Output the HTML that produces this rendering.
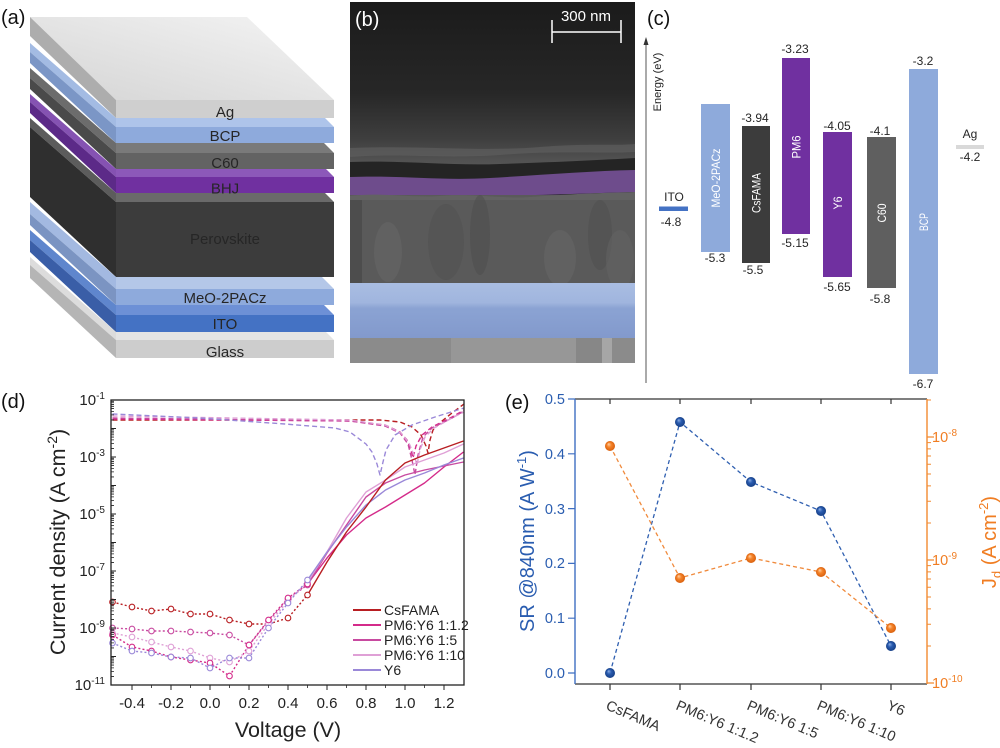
<!DOCTYPE html>
<html><head><meta charset="utf-8"><style>
html,body{margin:0;padding:0;background:#fff;}
svg{display:block;}
text{font-family:"Liberation Sans",Arial,sans-serif;}
</style></head><body>
<svg width="1000" height="748" viewBox="0 0 1000 748" xmlns="http://www.w3.org/2000/svg">
<defs>
<linearGradient id="agtop" x1="0" y1="1" x2="1" y2="0"><stop offset="0" stop-color="#d4d4d4"/><stop offset="1" stop-color="#f4f4f4"/></linearGradient>
<linearGradient id="semtop" x1="0" y1="0" x2="0" y2="1"><stop offset="0" stop-color="#1b1b1b"/><stop offset="0.55" stop-color="#272727"/><stop offset="0.82" stop-color="#3e3e3e"/><stop offset="1" stop-color="#585858"/></linearGradient>
<linearGradient id="semblue" x1="0" y1="0" x2="0" y2="1"><stop offset="0" stop-color="#a9bde2"/><stop offset="0.35" stop-color="#a0b5de"/><stop offset="0.45" stop-color="#8ba3d3"/><stop offset="1" stop-color="#8299cc"/></linearGradient>
<radialGradient id="bball" cx="0.5" cy="0.5" r="0.5" fx="0.35" fy="0.3"><stop offset="0" stop-color="#8fb0e6"/><stop offset="0.45" stop-color="#2a5cb0"/><stop offset="1" stop-color="#163f86"/></radialGradient>
<radialGradient id="oball" cx="0.5" cy="0.5" r="0.5" fx="0.35" fy="0.3"><stop offset="0" stop-color="#ffd2a8"/><stop offset="0.45" stop-color="#f5842a"/><stop offset="1" stop-color="#d9600e"/></radialGradient>
<clipPath id="semc"><rect x="350" y="2" width="285" height="361"/></clipPath>
<clipPath id="dclip"><rect x="111" y="400" width="353" height="285"/></clipPath>
<g id="dmin"><path d="M0,-8.58h3M0,-13.6h3M0,-17.16h3M0,-19.92h3M0,-22.18h3M0,-24.08h3M0,-25.74h3M0,-27.2h3" stroke="#222" stroke-width="0.8"/></g>
<g id="emin"><path d="M0,-37h4M0,-58.7h4M0,-74.1h4M0,-86h4M0,-95.7h4M0,-104h4M0,-111.1h4M0,-117.4h4" stroke="#f28a30" stroke-width="1"/></g>
</defs>
<rect width="1000" height="748" fill="#fff"/>

<!-- ===== Panel (a) ===== -->
<text x="1" y="24" font-size="20" fill="#111">(a)</text>
<polygon points="30,17 247,17 334,100 116,100" fill="url(#agtop)"/>
<polygon points="30,17 116,100 116,118 30,36" fill="#adadad"/>
<rect x="116" y="100" width="218" height="18" fill="#cfcfcf"/>
<polygon points="30,43 116,118 116,127 30,52" fill="#a3bbe3"/>
<polygon points="30,52 116,127 116,143 30,63" fill="#7b96c6"/>
<polygon points="116,118 325,118 334,127 116,127" fill="#aec4ea"/>
<rect x="116" y="127" width="218" height="16" fill="#8eaadc"/>
<polygon points="30,68 116,143 116,153 30,78" fill="#6c6c6c"/>
<polygon points="30,78 116,153 116,169 30,89" fill="#4a4a4a"/>
<polygon points="116,143 324,143 334,153 116,153" fill="#7a7a7a"/>
<rect x="116" y="153" width="218" height="16" fill="#636363"/>
<polygon points="30,94 116,169 116,177 30,102" fill="#8552b2"/>
<polygon points="30,102 116,177 116,193 30,113" fill="#5c2a88"/>
<polygon points="116,169 326,169 334,177 116,177" fill="#8c58b9"/>
<rect x="116" y="177" width="218" height="16" fill="#7030a0"/>
<polygon points="30,118 116,193 116,202 30,127" fill="#5c5c5c"/>
<polygon points="30,127 116,202 116,277 30,197" fill="#2f2f2f"/>
<polygon points="116,193 325,193 334,202 116,202" fill="#6a6a6a"/>
<rect x="116" y="202" width="218" height="75" fill="#3c3c3c"/>
<polygon points="30,202 116,277 116,289 30,214" fill="#a3b9e1"/>
<polygon points="30,214 116,289 116,305 30,225" fill="#7b94c2"/>
<polygon points="116,277 322,277 334,289 116,289" fill="#b4c7e8"/>
<rect x="116" y="289" width="218" height="16" fill="#8eaadc"/>
<polygon points="30,230 116,305 116,315 30,240" fill="#5f86cd"/>
<polygon points="30,240 116,315 116,332 30,252" fill="#3a5ea7"/>
<polygon points="116,305 324,305 334,315 116,315" fill="#6d90d6"/>
<rect x="116" y="315" width="218" height="17" fill="#4472c4"/>
<polygon points="30,257 116,332 116,340 30,265" fill="#dcdcdc"/>
<polygon points="30,265 116,340 116,358 30,278" fill="#b5b5b5"/>
<polygon points="116,332 326,332 334,340 116,340" fill="#e4e4e4"/>
<rect x="116" y="340" width="218" height="18" fill="#cdcdcd"/>
<g font-size="15" fill="#262626" text-anchor="middle">
<text x="225" y="117">Ag</text>
<text x="225" y="141">BCP</text>
<text x="225" y="168">C60</text>
<text x="225" y="193.5">BHJ</text>
<text x="225" y="244">Perovskite</text>
<text x="225" y="303">MeO-2PACz</text>
<text x="225" y="329">ITO</text>
<text x="225" y="357">Glass</text>
</g>

<!-- ===== Panel (b) SEM ===== -->
<g clip-path="url(#semc)">
<rect x="350" y="2" width="285" height="361" fill="#262626"/>
<rect x="350" y="2" width="285" height="166" fill="url(#semtop)"/>
<path d="M350,148 C420,145 480,152 540,147 C590,143 615,146 635,144 L635,152 C600,154 560,150 500,155 C440,159 400,153 350,157Z" fill="#5e5e5e" opacity="0.7"/>
<path d="M350,162 C400,160 450,166 500,164 C560,162 600,160 635,158 L635,173 C590,174 540,178 490,180 C440,182 400,179 350,180Z" fill="#242424"/>
<path d="M350,177 C400,175 440,181 490,178 C540,175 590,171 635,170 L635,192 C590,193 540,196 490,195 C440,195 400,197 350,196Z" fill="#6e4c8c"/>
<rect x="350" y="195" width="285" height="89" fill="#5a5a5a"/>
<path d="M350,196 C380,192 410,198 440,196 C470,193 500,199 530,197 C570,194 600,193 635,192 L635,200 L350,200Z" fill="#626262"/>
<ellipse cx="388" cy="252" rx="14" ry="30" fill="#656565" opacity="0.6"/>
<ellipse cx="446" cy="242" rx="18" ry="38" fill="#505050" opacity="0.5"/>
<ellipse cx="480" cy="235" rx="10" ry="40" fill="#4c4c4c" opacity="0.5"/>
<ellipse cx="560" cy="258" rx="16" ry="28" fill="#656565" opacity="0.6"/>
<ellipse cx="600" cy="235" rx="12" ry="35" fill="#4e4e4e" opacity="0.5"/>
<ellipse cx="620" cy="260" rx="14" ry="30" fill="#636363" opacity="0.5"/>
<rect x="350" y="200" width="12" height="84" fill="#474747" opacity="0.7"/>
<rect x="350" y="283" width="285" height="56" fill="url(#semblue)"/>
<rect x="350" y="338" width="285" height="25" fill="#8b8b8b"/>
<rect x="451" y="338" width="125" height="25" fill="#979797"/>
<rect x="576" y="338" width="26" height="25" fill="#878787"/>
<rect x="602" y="338" width="10" height="25" fill="#a6a6a6"/>
</g>
<text x="355" y="26" font-size="20" fill="#fff">(b)</text>
<text x="586" y="21" font-size="15" fill="#fff" text-anchor="middle">300 nm</text>
<path d="M552,32H621M552,20V43M621,20V43" stroke="#fff" stroke-width="1.5" fill="none"/>

<!-- ===== Panel (c) ===== -->
<text x="647" y="25" font-size="20" fill="#111">(c)</text>
<line x1="646" y1="383" x2="646" y2="42" stroke="#555" stroke-width="1"/>
<polygon points="643.5,45 646,37 648.5,45" fill="#333"/>
<text transform="translate(661,82) rotate(-90)" font-size="11" fill="#222" text-anchor="middle">Energy (eV)</text>
<rect x="659" y="206.5" width="29" height="4.5" fill="#4472c4"/>
<rect x="701" y="104" width="29" height="148" fill="#8eaadb"/>
<rect x="742" y="126" width="28" height="137" fill="#3c3c3c"/>
<rect x="782" y="58" width="28" height="176" fill="#7030a0"/>
<rect x="823" y="132" width="29" height="145" fill="#7030a0"/>
<rect x="867" y="137" width="29" height="151" fill="#5f5f5f"/>
<rect x="909" y="69" width="29" height="305" fill="#8eaadb"/>
<rect x="956" y="145" width="28" height="4" fill="#d9d9d9"/>
<g font-size="12" fill="#fff" text-anchor="middle">
<text transform="translate(720,178) rotate(-90)" textLength="59" lengthAdjust="spacingAndGlyphs">MeO-2PACz</text>
<text transform="translate(760.5,193) rotate(-90)" textLength="40" lengthAdjust="spacingAndGlyphs">CsFAMA</text>
<text transform="translate(800.5,147) rotate(-90)" textLength="23" lengthAdjust="spacingAndGlyphs">PM6</text>
<text transform="translate(842,203) rotate(-90)" textLength="13" lengthAdjust="spacingAndGlyphs">Y6</text>
<text transform="translate(886,213) rotate(-90)" textLength="19" lengthAdjust="spacingAndGlyphs">C60</text>
<text transform="translate(928,222) rotate(-90)" textLength="18" lengthAdjust="spacingAndGlyphs">BCP</text>
</g>
<g font-size="12" fill="#262626" text-anchor="middle">
<text x="674" y="201">ITO</text>
<text x="671" y="226">-4.8</text>
<text x="715" y="262">-5.3</text>
<text x="755" y="122">-3.94</text>
<text x="753" y="274">-5.5</text>
<text x="795" y="53">-3.23</text>
<text x="795" y="247">-5.15</text>
<text x="837" y="130">-4.05</text>
<text x="837" y="291">-5.65</text>
<text x="880" y="135">-4.1</text>
<text x="880" y="303">-5.8</text>
<text x="923" y="65">-3.2</text>
<text x="923" y="388">-6.7</text>
<text x="970" y="138">Ag</text>
<text x="970" y="161">-4.2</text>
</g>

<!-- ===== Panel (d) ===== -->
<text x="1" y="408" font-size="20" fill="#111">(d)</text>
<g clip-path="url(#dclip)" fill="none" stroke-width="1.4" stroke-linejoin="round">
<path d="M112.5,420 L380,420 L400,422 L412,427 L421,435 L426,446 L428,453 L430,440 L433,430 L442,421 L452,413 L464,404" stroke="#b81e22" stroke-dasharray="5,3"/>
<path d="M112.5,419 L350,421 L385,425 L400,432 L407,440 L411,450 L413,458 L416,446 L422,435 L432,427 L452,417 L464,410" stroke="#d42b8a" stroke-dasharray="5,3"/>
<path d="M112.5,418 L350,421 L385,426 L400,433 L408,444 L412,460 L415,475 L418,455 L423,437 L432,428 L452,418 L464,411" stroke="#c84aa0" stroke-dasharray="5,3"/>
<path d="M112.5,416 L350,420 L385,425 L401,433 L409,443 L414,455 L417,465 L420,450 L425,437 L434,428 L452,418 L464,412" stroke="#dfa0d6" stroke-dasharray="5,3"/>
<path d="M112.5,414 L200,418 L285,424 L335,428 L350,432 L358,438 L366,444 L372,452 L377,464 L380,475 L383,462 L386,450 L395,435 L412,425 L435,417 L464,408" stroke="#9a88d8" stroke-dasharray="5,3"/>
<polyline points="307.5,584 327,558 346.5,535 366,518 385.5,507 405,495 424.5,483 444,467 463.5,452" stroke="#d42b8a"/>
<polyline points="307.5,585 327,553 346.5,525 366,497 385.5,483 405,475 424.5,470 444,466 463.5,462" stroke="#c84aa0"/>
<polyline points="307.5,582 327,552 346.5,518 366,492 385.5,480 405,467 424.5,460 444,453 463.5,444" stroke="#dfa0d6"/>
<polyline points="307.5,580 327,552 346.5,527 366,505 385.5,490 405,480 424.5,473 444,465 463.5,458" stroke="#9a88d8"/>
<polyline points="307.5,595 327,562 346.5,532 366,507 385.5,480 405,463 424.5,455 444,448 463.5,441" stroke="#b81e22"/>
<polyline points="112.5,602 132,607 151.5,611 171,609 190.5,614 210,614 229.5,620 249,624 268.5,624 288,618 307.5,595" stroke="#b81e22" stroke-dasharray="2,2.2"/>
<polyline points="112.5,635 132,647 151.5,651 171,657 190.5,660 210,663 229.5,676 249,645 268.5,620 288,598 307.5,584" stroke="#d42b8a" stroke-dasharray="2,2.2"/>
<polyline points="112.5,628 132,629 151.5,631 171,631 190.5,632 210,633 229.5,635 249,645 268.5,621 288,599 307.5,585" stroke="#c84aa0" stroke-dasharray="2,2.2"/>
<polyline points="112.5,633 132,637 151.5,642 171,647 190.5,651 210,658 229.5,662 249,651 268.5,624 288,601 307.5,582" stroke="#dfa0d6" stroke-dasharray="2,2.2"/>
<polyline points="112.5,643 132,651 151.5,653 171,657 190.5,658 210,668 229.5,658 249,658 268.5,628 288,603 307.5,580" stroke="#9a88d8" stroke-dasharray="2,2.2"/>
</g>
<g fill="#fff" stroke-width="1.1">
<g stroke="#b81e22"><circle cx="112.5" cy="602" r="2.8"/><circle cx="132" cy="607" r="2.8"/><circle cx="151.5" cy="611" r="2.8"/><circle cx="171" cy="609" r="2.8"/><circle cx="190.5" cy="614" r="2.8"/><circle cx="210" cy="614" r="2.8"/><circle cx="229.5" cy="620" r="2.8"/><circle cx="249" cy="624" r="2.8"/><circle cx="288" cy="618" r="2.8"/><circle cx="307.5" cy="595" r="2.8"/></g>
<g stroke="#c84aa0"><circle cx="112.5" cy="628" r="2.8"/><circle cx="132" cy="629" r="2.8"/><circle cx="151.5" cy="631" r="2.8"/><circle cx="171" cy="631" r="2.8"/><circle cx="190.5" cy="632" r="2.8"/><circle cx="210" cy="633" r="2.8"/><circle cx="229.5" cy="635" r="2.8"/><circle cx="249" cy="645" r="2.8"/><circle cx="268.5" cy="621" r="2.8"/><circle cx="288" cy="599" r="2.8"/><circle cx="307.5" cy="585" r="2.8"/></g>
<g stroke="#dfa0d6"><circle cx="112.5" cy="633" r="2.8"/><circle cx="132" cy="637" r="2.8"/><circle cx="151.5" cy="642" r="2.8"/><circle cx="171" cy="647" r="2.8"/><circle cx="190.5" cy="651" r="2.8"/><circle cx="210" cy="658" r="2.8"/><circle cx="229.5" cy="662" r="2.8"/><circle cx="249" cy="651" r="2.8"/><circle cx="268.5" cy="624" r="2.8"/><circle cx="288" cy="601" r="2.8"/><circle cx="307.5" cy="582" r="2.8"/></g>
<g stroke="#d42b8a"><circle cx="112.5" cy="635" r="2.8"/><circle cx="132" cy="647" r="2.8"/><circle cx="151.5" cy="651" r="2.8"/><circle cx="171" cy="657" r="2.8"/><circle cx="190.5" cy="660" r="2.8"/><circle cx="210" cy="663" r="2.8"/><circle cx="229.5" cy="676" r="2.8"/><circle cx="249" cy="645" r="2.8"/><circle cx="268.5" cy="620" r="2.8"/><circle cx="288" cy="598" r="2.8"/><circle cx="307.5" cy="584" r="2.8"/></g>
<g stroke="#9a88d8"><circle cx="112.5" cy="643" r="2.8"/><circle cx="132" cy="651" r="2.8"/><circle cx="151.5" cy="653" r="2.8"/><circle cx="171" cy="657" r="2.8"/><circle cx="190.5" cy="658" r="2.8"/><circle cx="210" cy="668" r="2.8"/><circle cx="229.5" cy="658" r="2.8"/><circle cx="249" cy="658" r="2.8"/><circle cx="268.5" cy="628" r="2.8"/><circle cx="288" cy="603" r="2.8"/><circle cx="307.5" cy="580" r="2.8"/></g>
</g>
<rect x="111" y="400" width="353" height="285" fill="none" stroke="#222" stroke-width="1.3"/>
<path d="M111,400h5M111,428.5h5M111,457h5M111,485.5h5M111,514h5M111,542.5h5M111,571h5M111,599.5h5M111,628h5M111,656.5h5M111,685h5" stroke="#222" stroke-width="1"/>
<use href="#dmin" x="111" y="685"/><use href="#dmin" x="111" y="656.5"/><use href="#dmin" x="111" y="628"/><use href="#dmin" x="111" y="599.5"/><use href="#dmin" x="111" y="571"/><use href="#dmin" x="111" y="542.5"/><use href="#dmin" x="111" y="514"/><use href="#dmin" x="111" y="485.5"/><use href="#dmin" x="111" y="457"/><use href="#dmin" x="111" y="428.5"/>
<path d="M132,685v5M171,685v5M210,685v5M249,685v5M288,685v5M327,685v5M366,685v5M405,685v5M444,685v5" stroke="#222" stroke-width="1"/>
<path d="M151.5,685v3M190.5,685v3M229.5,685v3M268.5,685v3M307.5,685v3M346.5,685v3M385.5,685v3M424.5,685v3" stroke="#222" stroke-width="0.8"/>
<g font-size="15" fill="#222" text-anchor="middle">
<text x="132" y="708">-0.4</text><text x="171" y="708">-0.2</text><text x="210" y="708">0.0</text><text x="249" y="708">0.2</text><text x="288" y="708">0.4</text><text x="327" y="708">0.6</text><text x="366" y="708">0.8</text><text x="405" y="708">1.0</text><text x="444" y="708">1.2</text>
</g>
<g font-size="15" fill="#222" text-anchor="end">
<text x="105" y="405">10<tspan font-size="10" dy="-6">-1</tspan></text>
<text x="105" y="462">10<tspan font-size="10" dy="-6">-3</tspan></text>
<text x="105" y="519">10<tspan font-size="10" dy="-6">-5</tspan></text>
<text x="105" y="576">10<tspan font-size="10" dy="-6">-7</tspan></text>
<text x="105" y="633">10<tspan font-size="10" dy="-6">-9</tspan></text>
<text x="105" y="690">10<tspan font-size="10" dy="-6">-11</tspan></text>
</g>
<text x="288" y="737" font-size="21.5" fill="#222" text-anchor="middle">Voltage (V)</text>
<text transform="translate(65,542) rotate(-90)" font-size="21.5" fill="#222" text-anchor="middle">Current density (A cm<tspan font-size="14" dy="-8">-2</tspan><tspan dy="8">)</tspan></text>
<g stroke-width="2">
<line x1="353" y1="610" x2="381" y2="610" stroke="#b81e22"/>
<line x1="353" y1="625" x2="381" y2="625" stroke="#d42b8a"/>
<line x1="353" y1="640" x2="381" y2="640" stroke="#c84aa0"/>
<line x1="353" y1="655" x2="381" y2="655" stroke="#dfa0d6"/>
<line x1="353" y1="670" x2="381" y2="670" stroke="#9a88d8"/>
</g>
<g font-size="14" fill="#222">
<text x="384" y="615">CsFAMA</text>
<text x="384" y="630">PM6:Y6 1:1.2</text>
<text x="384" y="645">PM6:Y6 1:5</text>
<text x="384" y="660">PM6:Y6 1:10</text>
<text x="384" y="675">Y6</text>
</g>

<!-- ===== Panel (e) ===== -->
<text x="505" y="409" font-size="20" fill="#111">(e)</text>
<line x1="575" y1="399" x2="927" y2="399" stroke="#333" stroke-width="1.2"/>
<line x1="575" y1="684" x2="927" y2="684" stroke="#333" stroke-width="1.2"/>
<line x1="575" y1="399" x2="575" y2="684" stroke="#3f6fc2" stroke-width="1.4"/>
<line x1="927" y1="399" x2="927" y2="684" stroke="#f28a30" stroke-width="1.4"/>
<path d="M568,673h7M568,618.2h7M568,563.4h7M568,508.6h7M568,453.8h7M568,399h7" stroke="#3f6fc2" stroke-width="1.2"/>
<path d="M927,683h7M927,560h7M927,437h7" stroke="#f28a30" stroke-width="1.2"/>
<use href="#emin" x="927" y="683"/><use href="#emin" x="927" y="560"/>
<path d="M927,400h4" stroke="#f28a30" stroke-width="1"/>
<path d="M610,684v6M680,684v6M751,684v6M821,684v6M891,684v6M610,399v5M680,399v5M751,399v5M821,399v5M891,399v5" stroke="#333" stroke-width="1.2"/>
<g font-size="14.5" fill="#2a5db0" text-anchor="end">
<text x="565" y="678">0.0</text><text x="565" y="623">0.1</text><text x="565" y="568">0.2</text><text x="565" y="514">0.3</text><text x="565" y="459">0.4</text><text x="565" y="404">0.5</text>
</g>
<g font-size="14.5" fill="#f07d22">
<text x="932" y="688">10<tspan font-size="10" dy="-6">-10</tspan></text>
<text x="932" y="565">10<tspan font-size="10" dy="-6">-9</tspan></text>
<text x="932" y="442">10<tspan font-size="10" dy="-6">-8</tspan></text>
</g>
<text transform="translate(534,541) rotate(-90)" font-size="20" fill="#2a5db0" text-anchor="middle">SR @840nm (A W<tspan font-size="13" dy="-8">-1</tspan><tspan dy="8">)</tspan></text>
<text transform="translate(996,542) rotate(-90)" font-size="20" fill="#f07d22" text-anchor="middle">J<tspan font-size="13" dy="5">d</tspan><tspan dy="-5"> (A cm</tspan><tspan font-size="13" dy="-8">-2</tspan><tspan dy="8">)</tspan></text>
<g font-size="14.5" fill="#333">
<text transform="translate(605,709) rotate(23)">CsFAMA</text>
<text transform="translate(675,709) rotate(23)">PM6:Y6 1:1.2</text>
<text transform="translate(746,709) rotate(23)">PM6:Y6 1:5</text>
<text transform="translate(816,709) rotate(23)">PM6:Y6 1:10</text>
<text transform="translate(886,709) rotate(23)">Y6</text>
</g>
<path d="M610,673 L680,422 L751,482 L821,511 L891,646" fill="none" stroke="#2f5fb0" stroke-width="1.3" stroke-dasharray="4,3"/>
<path d="M610,446 L680,578 L751,558 L821,572 L891,628" fill="none" stroke="#f08a3c" stroke-width="1.3" stroke-dasharray="4,3"/>
<g fill="url(#oball)">
<circle cx="610" cy="446" r="5"/><circle cx="680" cy="578" r="5"/><circle cx="751" cy="558" r="5"/><circle cx="821" cy="572" r="5"/><circle cx="891" cy="628" r="5"/>
</g>
<g fill="url(#bball)">
<circle cx="610" cy="673" r="5"/><circle cx="680" cy="422" r="5"/><circle cx="751" cy="482" r="5"/><circle cx="821" cy="511" r="5"/><circle cx="891" cy="646" r="5"/>
</g>
</svg>
</body></html>
